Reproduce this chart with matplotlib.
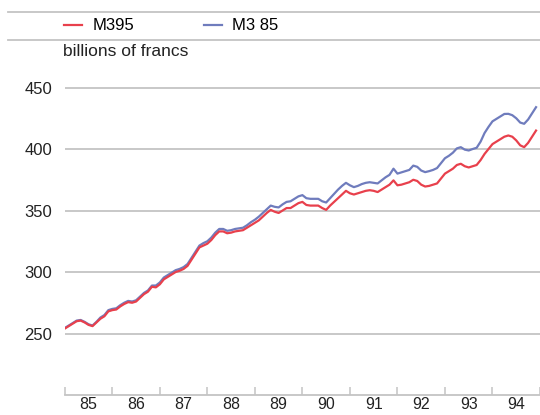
import numpy as np
import matplotlib
matplotlib.use('Agg')
import matplotlib.pyplot as plt
from matplotlib.lines import Line2D

plt.rcParams['font.family'] = ['Liberation Sans', 'DejaVu Sans']

# monthly values, Jan 1985 .. Dec 1994, billions of francs
months = 1985 + np.arange(120) / 12.0

m3_95 = [254, 256, 258, 260, 260.5, 259, 257, 256, 259, 262, 264, 268,
         269, 269.5, 272, 274, 275.5, 275, 276, 279, 282, 284, 288, 287.5,
         290, 294, 296, 298, 300, 301, 302.5, 305, 310, 315, 320, 321.5,
         323, 326, 330, 333, 333, 331.5, 332, 333, 333.5, 334, 336, 338,
         340, 342, 345, 348, 350.5, 349, 348, 350, 352, 352, 354, 356,
         357, 354.5, 354, 354, 354, 352, 350.5, 354, 357, 360, 363, 366,
         364, 363, 364, 365, 366, 366.5, 366, 365, 367, 369, 371, 374.5,
         370.5, 371, 372, 373, 375, 374, 371, 369.5, 370, 371, 372, 376,
         380, 382, 384, 387, 388, 386, 385, 386, 387, 391, 396, 400,
         404, 406, 408, 410, 411, 410, 407, 403, 401.5, 405, 410, 415]

m3_85 = [254.5, 256.5, 258.5, 260.5, 261, 259.5, 257.5, 256.5, 259.5, 263, 265, 269,
         270, 270.5, 273, 275, 276.5, 276, 277, 280, 283, 285, 289, 289,
         291.5, 295.5, 297.5, 299.5, 301.5, 302.5, 304, 306.5, 311.5, 316.5, 321.5, 323.5,
         325, 328, 332, 335, 335, 333.5, 334, 335, 335.5, 336, 338, 340.5,
         342.5, 345, 348, 351, 354, 353, 352.5, 355, 357, 357.5, 359.5, 361.5,
         362.5, 360, 359.5, 359.5, 359.5, 357.5, 356.5, 360, 363.5, 367, 370, 372.5,
         370.5, 369, 370, 371.5, 372.5, 373, 372.5, 372, 374.5, 377, 379, 384,
         380, 381, 382, 383, 386.5, 385.5, 382.5, 381.2, 382, 383, 384.5, 388.5,
         392.5, 394.5, 397, 400.5, 401.5, 399.5, 398.8, 400, 401, 406, 413, 418,
         422.5, 424.5, 426.5, 428.5, 428.6, 427.5, 425, 421.5, 420.5, 424, 429, 434]

years = list(range(1985, 1996))
year_labels = ['85', '86', '87', '88', '89', '90', '91', '92', '93', '94']
y_ticks = [250, 300, 350, 400, 450]

red = '#e8404c'
blue = '#6f7cbd'
grey = '#c4c4c4'

fig = plt.figure(figsize=(5.4, 4.15), dpi=100)
ax = fig.add_axes([0.12, 0.0482, 0.88, 0.8002])

l1, = ax.plot(months, m3_95, color=red, lw=1.6, zorder=3)
l2, = ax.plot(months, m3_85, color=blue, lw=1.6, zorder=2)

ax.set_xlim(1985, 1994.92)
ax.set_ylim(200, 470)

ax.set_yticks(y_ticks)
ax.tick_params(axis='y', length=0, pad=9, labelsize=12, colors='#222222')
ax.yaxis.grid(True, color=grey, lw=1.3)
ax.set_axisbelow(True)

ax.set_xticks(years)
ax.set_xticklabels([])
ax.set_xticks([y + 0.5 for y in years[:-1]], minor=True)
ax.set_xticklabels(year_labels, minor=True)
ax.tick_params(axis='x', which='major', direction='in', length=5.5, width=1.1, color=grey)
ax.tick_params(axis='x', which='minor', length=0, pad=1.5, labelsize=11.5, colors='#222222')

for s in ['left', 'top', 'right']:
    ax.spines[s].set_visible(False)
ax.spines['bottom'].set_color(grey)
ax.spines['bottom'].set_linewidth(1.3)

# header rules
fig.add_artist(Line2D([8 / 540, 1], [1 - 12.5 / 415] * 2, color=grey, lw=1.3))
fig.add_artist(Line2D([8 / 540, 1], [1 - 40.5 / 415] * 2, color=grey, lw=1.3))

fig.legend([l1, l2], ['M395', 'M3 85'], loc='center left',
           bbox_to_anchor=(64 / 540, 1 - 26 / 415), ncol=2, frameon=False,
           borderpad=0, borderaxespad=0, handlelength=1.05, handletextpad=0.65,
           columnspacing=4.2, fontsize=12)

fig.text(63 / 540, 1 - 52 / 415, 'billions of francs', fontsize=12.5,
         va='center', ha='left', color='#222222')

fig.savefig('out.png', dpi=100)
